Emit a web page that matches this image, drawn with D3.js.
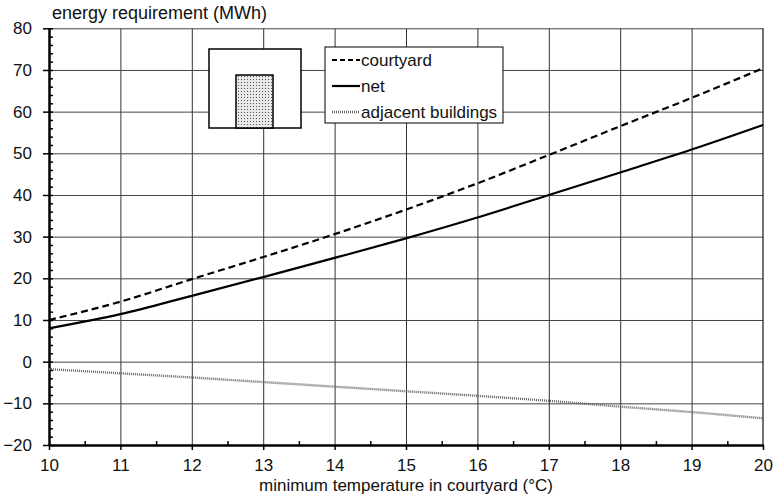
<!DOCTYPE html>
<html lang="en">
<head>
    <meta charset="UTF-8">
    <title>energy requirement</title>
    <script src="https://d3js.org/d3.v7.min.js"></script>
</head>
<style>
    html,body {
        margin: 0;
        padding: 0;
        background: #fff;
    }
    text {
        font-family: "Liberation Sans", Arial, sans-serif;
    }
</style>
<body>
    <div id="svg"></div>
</body>
<script>
    // data
    const temps = [10, 11, 12, 13, 14, 15, 16, 17, 18, 19, 20];
    const courtyard = [10.0, 14.4, 19.8, 25.1, 30.6, 36.5, 42.8, 49.6, 56.5, 63.3, 70.4];
    const net = [8.0, 11.4, 15.8, 20.3, 24.9, 29.6, 34.6, 40.0, 45.4, 50.9, 56.8];
    const adjacent = [-1.8, -2.8, -3.8, -4.9, -6.0, -7.1, -8.2, -9.4, -10.8, -12.1, -13.6];
    const xTicks = [10, 11, 12, 13, 14, 15, 16, 17, 18, 19, 20];
    const yTicks = [-20, -10, 0, 10, 20, 30, 40, 50, 60, 70, 80];
    const legendNames = ['courtyard', 'net', 'adjacent buildings'];

    const W = 775, H = 498;
    const FS = 17;
    const svg = d3.select('#svg').append('svg')
        .attr('width', W)
        .attr('height', H);

    const x = d3.scaleLinear().domain([10, 20]).range([49, 763]);
    const y = d3.scaleLinear().domain([-20, 80]).range([445, 28.3]);

    // dot pattern for the small courtyard icon
    const defs = svg.append('defs');
    const pat = defs.append('pattern')
        .attr('id', 'dots')
        .attr('width', 3).attr('height', 3)
        .attr('patternUnits', 'userSpaceOnUse');
    pat.append('rect').attr('width', 3).attr('height', 3).attr('fill', '#e8e8e8');
    pat.append('rect').attr('x', 1).attr('y', 1).attr('width', 1).attr('height', 1).attr('fill', '#555');

    // grid
    svg.append('g')
        .attr('transform', `translate(0,${y(-20)})`)
        .call(d3.axisBottom(x).tickValues(xTicks.slice(1, -1)).tickSize(-(y(-20) - y(80))).tickFormat(''))
        .call(g => g.select('.domain').remove())
        .call(g => g.selectAll('line').attr('stroke', '#333').attr('stroke-width', 1));
    svg.append('g')
        .attr('transform', `translate(${x(10)},0)`)
        .call(d3.axisLeft(y).tickValues(yTicks.slice(1)).tickSize(-(x(20) - x(10))).tickFormat(''))
        .call(g => g.select('.domain').remove())
        .call(g => g.selectAll('line').attr('stroke', '#444').attr('stroke-width', 1));
    // right border
    svg.append('line')
        .attr('x1', x(20)).attr('x2', x(20))
        .attr('y1', y(80)).attr('y2', y(-20))
        .attr('stroke', '#111').attr('stroke-width', 1.2);

    // minor ticks
    svg.append('g')
        .attr('transform', `translate(${x(10)},0)`)
        .call(d3.axisRight(y).tickValues(d3.range(-20, 81, 2)).tickSize(4).tickFormat(''))
        .call(g => g.select('.domain').remove())
        .call(g => g.selectAll('line').attr('stroke', '#000').attr('stroke-width', 1.5));
    svg.append('g')
        .attr('transform', `translate(0,${y(-20)})`)
        .call(d3.axisTop(x).tickValues(d3.range(10.5, 20, 1)).tickSize(4).tickFormat(''))
        .call(g => g.select('.domain').remove())
        .call(g => g.selectAll('line').attr('stroke', '#000').attr('stroke-width', 1.5));

    // main axes
    const yAxis = svg.append('g')
        .attr('transform', `translate(${x(10)},0)`)
        .call(d3.axisLeft(y).tickValues(yTicks).tickSizeInner(6).tickSizeOuter(0).tickPadding(11));
    yAxis.select('.domain').attr('stroke-width', 2.5);
    yAxis.selectAll('line').attr('stroke-width', 1.5);
    yAxis.selectAll('text').attr('font-size', FS).attr('fill', '#111')
        .attr('font-family', '"Liberation Sans", Arial, sans-serif');

    const xAxis = svg.append('g')
        .attr('transform', `translate(0,${y(-20)})`)
        .call(d3.axisBottom(x).tickValues(xTicks).tickSizeInner(5).tickSizeOuter(0).tickPadding(9));
    xAxis.select('.domain').attr('stroke-width', 2.5);
    xAxis.selectAll('line').attr('stroke-width', 1.5);
    xAxis.selectAll('text').attr('font-size', FS).attr('fill', '#111')
        .attr('font-family', '"Liberation Sans", Arial, sans-serif');

    // axis titles
    svg.append('text')
        .attr('x', 52).attr('y', 19)
        .attr('font-size', 18).attr('fill', '#111')
        .text('energy requirement (MWh)');
    svg.append('text')
        .attr('x', 406).attr('y', 491)
        .attr('text-anchor', 'middle')
        .attr('font-size', FS).attr('fill', '#111')
        .text('minimum temperature in courtyard (°C)');

    // lines
    const line = (vals) => d3.line()
        .x((d, i) => x(temps[i]))
        .y(d => y(d))
        .curve(d3.curveMonotoneX)(vals);

    svg.append('path').attr('d', line(adjacent))
        .attr('fill', 'none').attr('stroke', '#666')
        .attr('stroke-width', 2.4).attr('stroke-dasharray', '1,1');
    svg.append('path').attr('d', line(net))
        .attr('fill', 'none').attr('stroke', '#000').attr('stroke-width', 2.2);
    svg.append('path').attr('d', line(courtyard))
        .attr('fill', 'none').attr('stroke', '#000').attr('stroke-width', 2.2)
        .attr('stroke-dasharray', '7,4');

    // courtyard icon
    svg.append('rect')
        .attr('x', 209).attr('y', 49).attr('width', 92).attr('height', 79)
        .attr('fill', '#fff').attr('stroke', '#000').attr('stroke-width', 1.5);
    svg.append('rect')
        .attr('x', 236).attr('y', 75).attr('width', 37).attr('height', 53)
        .attr('fill', 'url(#dots)').attr('stroke', '#000').attr('stroke-width', 1.5);

    // legend
    const lg = svg.append('g');
    lg.append('rect')
        .attr('x', 325).attr('y', 47).attr('width', 178).attr('height', 76)
        .attr('fill', '#fff').attr('stroke', '#000').attr('stroke-width', 1);
    const styles = [
        { stroke: '#000', dash: '5,3', w: 2.2 },
        { stroke: '#000', dash: null, w: 2.2 },
        { stroke: '#666', dash: '1,1', w: 2.4 }
    ];
    legendNames.forEach((name, i) => {
        const yy = 59 + i * 26;
        lg.append('line')
            .attr('x1', 332).attr('x2', 360).attr('y1', yy + 1).attr('y2', yy + 1)
            .attr('stroke', styles[i].stroke).attr('stroke-width', styles[i].w)
            .attr('stroke-dasharray', styles[i].dash);
        lg.append('text')
            .attr('x', 361).attr('y', yy + 7)
            .attr('font-size', FS).attr('fill', '#111')
            .text(name);
    });
</script>
</html>
